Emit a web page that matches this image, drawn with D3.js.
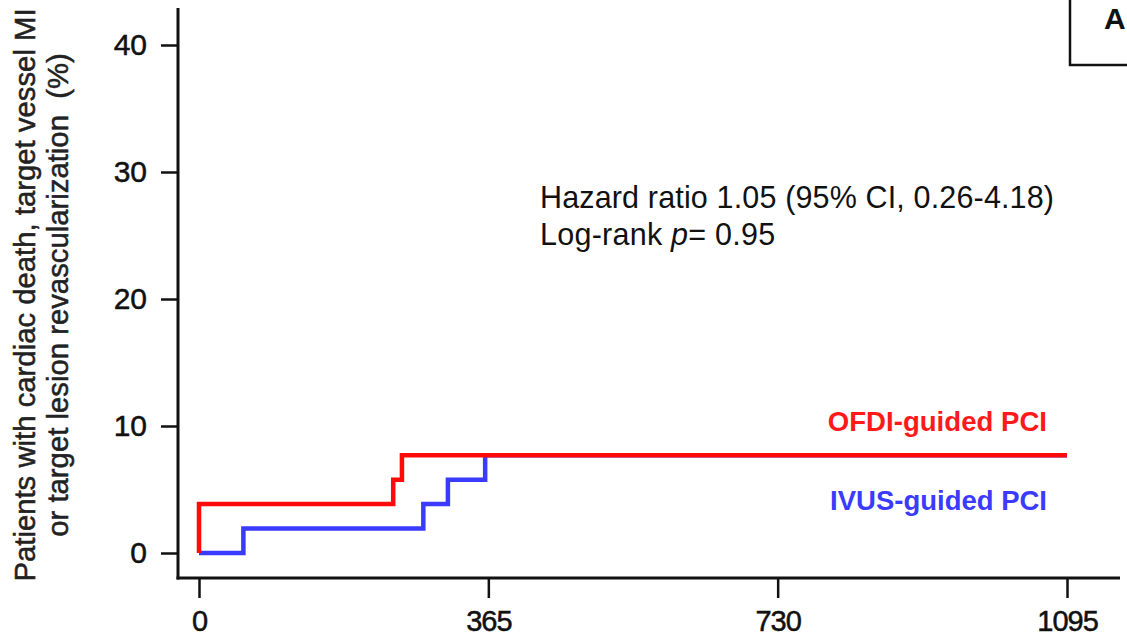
<!DOCTYPE html>
<html>
<head>
<meta charset="utf-8">
<script src="https://cdn.jsdelivr.net/npm/d3@7"></script>
<style>
  html, body { margin: 0; padding: 0; background: #fff; }
  svg { display: block; font-family: Arial, "Liberation Sans", sans-serif; }
</style>
</head>
<body>
<svg id="chart" width="1127" height="642"></svg>
<script>
// ---- data ----
const xTicks = [0, 365, 730, 1095];
const yTicks = [0, 10, 20, 30, 40];
const ofdiDays = [0, 0, 245, 256, 1095];
const ofdiPct  = [0, 3.85, 5.77, 7.69, 7.69];
const ivusDays = [0, 56, 283, 314, 361, 1095];
const ivusPct  = [0, 1.92, 3.85, 5.77, 7.69, 7.69];
const yTitleLines = ["Patients with cardiac death, target vessel MI", "or target lesion revascularization\u00a0 (%)"];
const statLine1 = "Hazard ratio 1.05 (95% CI, 0.26-4.18)";
const seriesNames = ["OFDI-guided PCI", "IVUS-guided PCI"];

// ---- layout ----
const svg = d3.select("#chart");
const x = d3.scaleLinear().domain([0, 1095]).range([199, 1067]);
const y = d3.scaleLinear().domain([0, 40]).range([553, 45]);
const axisX = 178, axisY = 578;
const FONT = "Arial, 'Liberation Sans', sans-serif";

// spines
svg.append("line").attr("x1", axisX).attr("x2", axisX).attr("y1", 8).attr("y2", axisY + 1.5)
  .attr("stroke", "#111").attr("stroke-width", 3);
svg.append("line").attr("x1", axisX - 1.5).attr("x2", 1120).attr("y1", axisY).attr("y2", axisY)
  .attr("stroke", "#111").attr("stroke-width", 3);

// y axis
const yAxis = d3.axisLeft(y).tickValues(yTicks).tickSize(17).tickPadding(14).tickFormat(d3.format("d"));
const gy = svg.append("g").attr("transform", `translate(${axisX},0)`).call(yAxis);
gy.select(".domain").remove();
gy.selectAll(".tick line").attr("stroke", "#111").attr("stroke-width", 2.5);
gy.selectAll(".tick text").attr("font-size", 30).attr("fill", "#111")
  .attr("stroke", "#111").attr("stroke-width", 0.5).attr("font-family", FONT);

// x axis
const xAxis = d3.axisBottom(x).tickValues(xTicks).tickSize(20).tickPadding(12).tickFormat(d3.format("d"));
const gx = svg.append("g").attr("transform", `translate(0,${axisY})`).call(xAxis);
gx.select(".domain").remove();
gx.selectAll(".tick line").attr("stroke", "#111").attr("stroke-width", 2.5);
gx.selectAll(".tick text").attr("font-size", 29).attr("fill", "#111")
  .attr("stroke", "#111").attr("stroke-width", 0.5).attr("font-family", FONT)
  .attr("letter-spacing", -1);

// y title
const yt = svg.append("text")
  .attr("transform", `translate(35,295) rotate(-90)`)
  .attr("text-anchor", "middle").attr("font-size", 29.3).attr("fill", "#222")
  .attr("stroke", "#222").attr("stroke-width", 0.5);
yt.append("tspan").attr("x", 0).attr("dy", 0).text(yTitleLines[0]);
yt.append("tspan").attr("x", 0).attr("dy", 33).text(yTitleLines[1]);

// step curves
const line = d3.line().x(d => x(d[0])).y(d => y(d[1])).curve(d3.curveStepAfter);
const ivus = ivusDays.map((d, i) => [d, ivusPct[i]]);
const ofdi = ofdiDays.map((d, i) => [d, ofdiPct[i]]);
svg.append("path").attr("d", line(ivus)).attr("fill", "none")
  .attr("stroke", "#3b3bff").attr("stroke-width", 4.5).attr("stroke-linejoin", "miter");
svg.append("path").attr("d", line(ofdi)).attr("fill", "none")
  .attr("stroke", "#ff0a0a").attr("stroke-width", 4.5).attr("stroke-linejoin", "miter");

// annotations
svg.append("text").attr("x", 540).attr("y", 208).attr("font-size", 30.5).attr("fill", "#111")
  .attr("letter-spacing", 0.15).text(statLine1);
const lr = svg.append("text").attr("x", 540).attr("y", 245).attr("font-size", 30.5).attr("fill", "#111")
  .attr("letter-spacing", 0.25);
lr.append("tspan").text("Log-rank ");
lr.append("tspan").attr("font-style", "italic").text("p");
lr.append("tspan").text("= 0.95");

svg.append("text").attr("x", 1047).attr("y", 431).attr("text-anchor", "end")
  .attr("font-size", 27.6).attr("font-weight", "bold").attr("fill", "#ff1a1a").text(seriesNames[0]);
svg.append("text").attr("x", 1047).attr("y", 510).attr("text-anchor", "end")
  .attr("font-size", 27.5).attr("font-weight", "bold").attr("fill", "#3b3bff").text(seriesNames[1]);

// panel label box
svg.append("rect").attr("x", 1070).attr("y", -5).attr("width", 70).attr("height", 70)
  .attr("fill", "none").attr("stroke", "#111").attr("stroke-width", 2.5);
svg.append("text").attr("x", 1104).attr("y", 29).attr("font-size", 30).attr("font-weight", "bold")
  .attr("fill", "#111").text("A");
</script>
</body>
</html>
